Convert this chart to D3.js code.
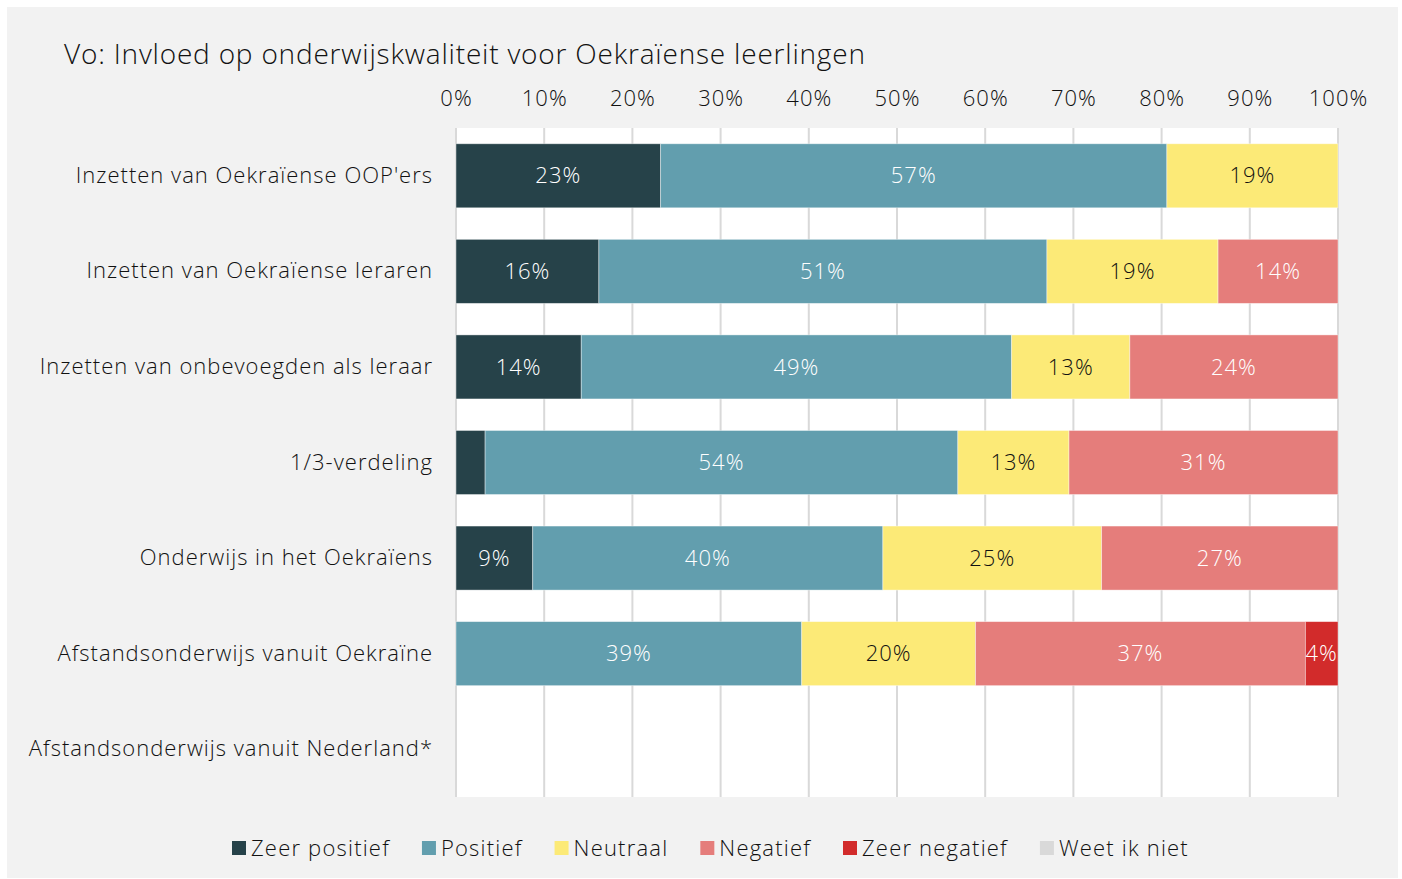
<!DOCTYPE html>
<html>
<head>
<meta charset="utf-8">
<script src="https://cdn.jsdelivr.net/npm/d3@7"></script>
<style>
  body { margin: 0; background: #fff; }
  svg { font-family: "Open Sans", Lato, sans-serif; font-weight: 300; letter-spacing: 1px; }
</style>
</head>
<body>
<svg></svg>
<script>
const categories = [
  "Inzetten van Oekraïense OOP'ers",
  "Inzetten van Oekraïense leraren",
  "Inzetten van onbevoegden als leraar",
  "1/3-verdeling",
  "Onderwijs in het Oekraïens",
  "Afstandsonderwijs vanuit Oekraïne",
  "Afstandsonderwijs vanuit Nederland*"
];
const seriesNames = ["Zeer positief", "Positief", "Neutraal", "Negatief", "Zeer negatief", "Weet ik niet"];
const seriesColors = ["#264249", "#629eae", "#fcea77", "#e57d7b", "#d22b2b", "#d9d9d9"];
const labelColors = ["#ffffff", "#ffffff", "#111111", "#ffffff", "#ffffff", "#111111"];

// percentages per category, per series
const zeerPositief = [23.2, 16.2, 14.2, 3.3, 8.7, 0, 0];
const positief     = [57.4, 50.8, 48.8, 53.6, 39.7, 39.2, 0];
const neutraal     = [19.4, 19.4, 13.4, 12.6, 24.8, 19.7, 0];
const negatief     = [0, 13.6, 23.6, 30.5, 26.8, 37.4, 0];
const zeerNegatief = [0, 0, 0, 0, 0, 3.7, 0];
const weetIkNiet   = [0, 0, 0, 0, 0, 0, 0];
const xTicks = [0, 10, 20, 30, 40, 50, 60, 70, 80, 90, 100];

const width = 1402;
const height = 879;
const plot = { left: 456, right: 1338, top: 128, bottom: 797 };
const fontSize = 22;

const svg = d3.select("svg").attr("width", width).attr("height", height);

svg.append("rect")
  .attr("x", 7).attr("y", 7)
  .attr("width", 1391).attr("height", 871)
  .attr("fill", "#f2f2f2");

svg.append("rect")
  .attr("x", plot.left - 1).attr("y", plot.top)
  .attr("width", plot.right - plot.left + 2).attr("height", plot.bottom - plot.top)
  .attr("fill", "#ffffff");

svg.append("text")
  .attr("x", 64).attr("y", 64)
  .attr("font-size", 28)
  .attr("letter-spacing", "0.8px")
  .attr("fill", "#111")
  .text("Vo: Invloed op onderwijskwaliteit voor Oekraïense leerlingen");

const xScale = d3.scaleLinear().domain([0, 100]).range([plot.left, plot.right]);
const yScale = d3.scaleBand().domain(categories).range([plot.top, plot.bottom]).paddingInner(0.33).paddingOuter(0.165);

// gridlines
svg.append("g")
  .selectAll("line")
  .data(xTicks)
  .join("line")
  .attr("x1", d => xScale(d)).attr("x2", d => xScale(d))
  .attr("y1", plot.top).attr("y2", plot.bottom)
  .attr("stroke", "#d9d9d9")
  .attr("stroke-width", 2);

// top axis
const xAxis = d3.axisTop(xScale).tickValues(xTicks).tickFormat(d => d + "%").tickSize(0).tickPadding(0);
const gx = svg.append("g")
  .attr("transform", "translate(0, 106)")
  .call(xAxis)
  .attr("font-family", null);
gx.select(".domain").remove();
gx.selectAll("text").attr("font-size", fontSize).attr("fill", "#111");

// left axis
const yAxis = d3.axisLeft(yScale).tickSize(0).tickPadding(23);
const gy = svg.append("g")
  .attr("transform", "translate(" + plot.left + ", 0)")
  .call(yAxis)
  .attr("font-family", null);
gy.select(".domain").remove();
gy.selectAll("text").attr("font-size", fontSize).attr("fill", "#111");

// stacked data
const seriesValues = [zeerPositief, positief, neutraal, negatief, zeerNegatief, weetIkNiet];
const table = categories.map((c, i) => {
  const row = { category: c };
  seriesNames.forEach((s, j) => { row[s] = seriesValues[j][i]; });
  return row;
});
const stacked = d3.stack().keys(seriesNames)(table);

const layers = svg.append("g")
  .selectAll("g")
  .data(stacked)
  .join("g")
  .attr("fill", (d, i) => seriesColors[i]);

layers.selectAll("rect")
  .data(d => d.filter(p => p[1] - p[0] > 0))
  .join("rect")
  .attr("x", d => xScale(d[0]))
  .attr("y", d => yScale(d.data.category))
  .attr("width", d => xScale(d[1]) - xScale(d[0]))
  .attr("height", yScale.bandwidth())
  .attr("stroke", "#ffffff")
  .attr("stroke-opacity", 0.5)
  .attr("stroke-width", 0.8);

stacked.forEach((layer, i) => {
  const key = layer.key;
  svg.append("g")
    .selectAll("text")
    .data(layer.filter(p => Math.round(p.data[key]) >= 4))
    .join("text")
    .attr("x", d => (xScale(d[0]) + xScale(d[1])) / 2)
    .attr("y", d => yScale(d.data.category) + yScale.bandwidth() / 2)
    .attr("dy", "0.35em")
    .attr("text-anchor", "middle")
    .attr("font-size", fontSize)
    .attr("fill", labelColors[i])
    .text(d => Math.round(d.data[key]) + "%");
});

// legend
const legend = svg.append("g").attr("transform", "translate(0, 848)");
let lx = 232;
seriesNames.forEach((s, i) => {
  legend.append("rect")
    .attr("x", lx).attr("y", -7)
    .attr("width", 14).attr("height", 14)
    .attr("fill", seriesColors[i]);
  const t = legend.append("text")
    .attr("x", lx + 19).attr("y", 0)
    .attr("dy", "0.35em")
    .attr("font-size", fontSize)
    .attr("letter-spacing", "1.2px")
    .attr("fill", "#111")
    .text(s);
  lx += 19 + t.node().getComputedTextLength() + 32;
});
</script>
</body>
</html>
